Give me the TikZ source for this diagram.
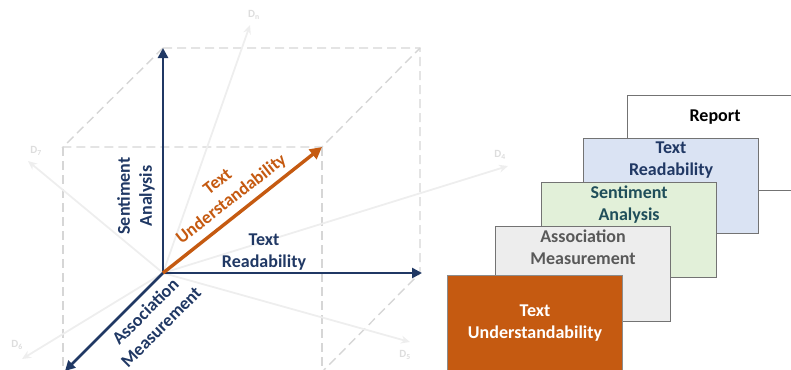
\documentclass[tikz,border=0pt]{standalone}
\usepackage{fontspec}
\setmainfont{Carlito}
\usepackage{xcolor}
\usetikzlibrary{arrows.meta,positioning}
\definecolor{navyblue}{HTML}{203864}
\definecolor{burntorange}{HTML}{C55A11}
\definecolor{ghostgray}{HTML}{EEEEEE}
\definecolor{ghosttext}{HTML}{DDDDDD}
\definecolor{dashgray}{HTML}{D6D6D6}
\definecolor{paleblue}{HTML}{DAE3F3}
\definecolor{palegreen}{HTML}{E2F0D9}
\definecolor{palegray}{HTML}{EDEDED}
\definecolor{darkteal}{HTML}{1F4E5A}
\definecolor{midgray}{HTML}{595959}
\tikzset{
    axis/.style={
        navyblue,
        line width=2.6pt,
        -{Triangle[length=10pt,width=10pt]},
    },
    ghost/.style={
        ghostgray,
        line width=1.8pt,
        -{Stealth[length=9pt,width=8pt]},
    },
    cube/.style={
        dashgray,
        line width=1.4pt,
        dash pattern=on 9pt off 5pt,
    },
    axislabel/.style={
        navyblue,
        align=center,
        inner sep=0pt,
        font=\fontsize{18}{22}\selectfont\bfseries,
    },
    dlabel/.style={
        ghosttext,
        inner sep=0pt,
        font=\fontsize{11}{12}\selectfont\bfseries,
    },
    card/.style={
        draw=black!55,
        line width=1.1pt,
        anchor=north west,
        minimum width=175pt,
        minimum height=95pt,
        inner sep=0pt,
    },
    cardtext/.style={
        align=center,
        inner sep=0pt,
        font=\fontsize{18}{22}\selectfont\bfseries,
    },
}

\begin{document}
\begin{tikzpicture}[x=1pt, y=-1pt]
    \useasboundingbox (0, 0) rectangle (791, 369);

    % Corners of the dashed cube, axis tips on some of them
    \coordinate (O) at (163, 273);
    \coordinate (btl) at (163, 48);
    \coordinate (btr) at (420, 48);
    \coordinate (bbr) at (420, 273);
    \coordinate (ftl) at (63, 147);
    \coordinate (ftr) at (322, 147);
    \coordinate (fbl) at (63, 372);
    \coordinate (fbr) at (322, 372);
    \coordinate (am) at (65, 371);

    % Dashed cube, drawn first
    \draw[cube] (btl) -- (btr) -- (bbr) -- (fbr);
    \draw[cube] (btl) -- (ftl) -- (ftr) -- (btr);
    \draw[cube] (ftl) -- (fbl);
    \draw[cube] (ftr) -- (fbr);

    % Other dimensions, faint arrows
    \node[dlabel] (dn) at (254, 15) {D\textsubscript{n}};
    \node[dlabel] (d7) at (36, 151) {D\textsubscript{7}};
    \node[dlabel] (d6) at (17, 345) {D\textsubscript{6}};
    \node[dlabel] (d5) at (405, 355) {D\textsubscript{5}};
    \node[dlabel] (d4) at (500, 155) {D\textsubscript{4}};
    \draw[ghost] (O) -- (250, 25);
    \draw[ghost] (O) -- (28, 161);
    \draw[ghost] (O) -- (22, 359);
    \draw[ghost] (O) -- (410, 342);
    \draw[ghost] (O) -- (508, 166);

    % Main axes
    \draw[axis] (O) -- (btl);
    \draw[axis] (O) -- (422, 273);
    \draw[axis] (O) -- (am);
    \draw[burntorange, line width=3.4pt, -{Triangle[length=12pt,width=12pt]}]
      (O) -- (ftr);

    % Axis texts
    \node[axislabel, rotate=90] (sa) at (136, 196) {Sentiment\\Analysis};
    \node[axislabel] (tr) at (264, 252) {Text\\Readability};
    \node[axislabel, rotate=45] (asm) at (153, 319) {Association\\Measurement};
    \node[axislabel, burntorange, rotate=38] (tu) at (225, 191)
      {Text\\Understandability};

    % Stack of cards, back to front
    \node[card, fill=white] (report) at (627, 95) {};
    \node[cardtext, below=15pt of report.north] {Report};
    \node[card, fill=paleblue] (trcard) at (583, 138) {};
    \node[cardtext, navyblue, below=4pt of trcard.north] {Text\\Readability};
    \node[card, fill=palegreen] (sacard) at (541, 182) {};
    \node[cardtext, darkteal, below=4pt of sacard.north] {Sentiment\\Analysis};
    \node[card, fill=palegray] (amcard) at (495, 226) {};
    \node[cardtext, midgray, below=4pt of amcard.north] {Association\\Measurement};
    \node[card, fill=burntorange, draw=black!45] (tucard) at (447, 275) {};
    \node[cardtext, white] at (tucard.center) {Text\\Understandability};
\end{tikzpicture}
\end{document}
